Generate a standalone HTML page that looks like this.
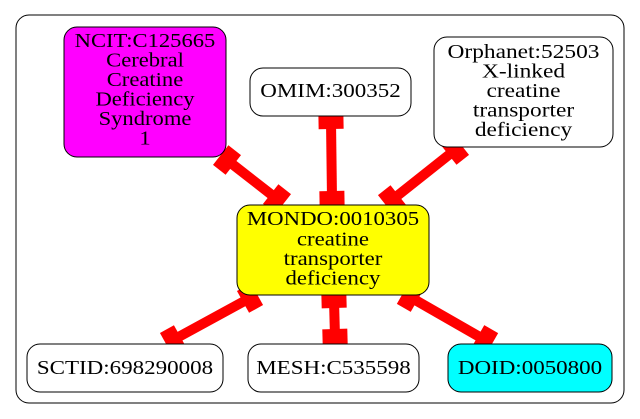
<!DOCTYPE html>
<html><head><meta charset="utf-8"><style>
html,body{margin:0;padding:0;background:#fff;}
svg{display:block;}
text{font-family:"Liberation Serif","DejaVu Serif",serif;font-size:20px;fill:#000;}
</style></head><body>
<svg width="640" height="419" viewBox="0 0 640 419" xmlns="http://www.w3.org/2000/svg">
<rect x="16" y="15" width="608" height="388" rx="13" fill="#fff" stroke="#000" stroke-width="1"/>

<g stroke="red" stroke-width="10" fill="none">
<line x1="227" y1="160" x2="277" y2="199"/>
<line x1="331" y1="121" x2="332" y2="199"/>
<line x1="455" y1="150" x2="392" y2="200"/>
<line x1="250" y1="298" x2="173" y2="340"/>
<line x1="334" y1="300" x2="335" y2="337"/>
<line x1="410" y1="297" x2="485" y2="340"/>
</g>
<g fill="red">
<rect x="-8" y="-12.5" width="16" height="25" transform="translate(227,160) rotate(38)"/>
<rect x="-8" y="-12.5" width="16" height="25" transform="translate(277,199) rotate(38)"/>
<rect x="-8" y="-12.5" width="16" height="25" transform="translate(331,121) rotate(89)"/>
<rect x="-8" y="-12.5" width="16" height="25" transform="translate(332,199) rotate(89)"/>
<rect x="-8" y="-12.5" width="16" height="25" transform="translate(455,150) rotate(141.6)"/>
<rect x="-8" y="-12.5" width="16" height="25" transform="translate(392,200) rotate(141.6)"/>
<rect x="-8" y="-12.5" width="16" height="25" transform="translate(250,298) rotate(151)"/>
<rect x="-8" y="-12.5" width="16" height="25" transform="translate(173,340) rotate(151)"/>
<rect x="-8" y="-12.5" width="16" height="25" transform="translate(334,300) rotate(88.5)"/>
<rect x="-8" y="-12.5" width="16" height="25" transform="translate(335,337) rotate(88.5)"/>
<rect x="-8" y="-12.5" width="16" height="25" transform="translate(410,297) rotate(29.8)"/>
<rect x="-8" y="-12.5" width="16" height="25" transform="translate(485,340) rotate(29.8)"/>
</g>

<rect x="64" y="27" width="162" height="130" rx="13" fill="#ff00ff" stroke="#000"/>
<g transform="translate(145,0) scale(1.13,1)" text-anchor="middle">
<text x="0" y="47">NCIT:C125665</text>
<text x="0" y="66.5">Cerebral</text>
<text x="0" y="86">Creatine</text>
<text x="0" y="105.5">Deficiency</text>
<text x="0" y="125">Syndrome</text>
<text x="0" y="144.5">1</text>
</g>

<rect x="250" y="68" width="161" height="48" rx="13" fill="#fff" stroke="#000"/>
<g transform="translate(330.5,0) scale(1.15,1)" text-anchor="middle">
<text x="0" y="97">OMIM:300352</text>
</g>

<rect x="434" y="37" width="179" height="110" rx="13" fill="#fff" stroke="#000"/>
<g transform="translate(523.5,0) scale(1.17,1)" text-anchor="middle">
<text x="0" y="58">Orphanet:52503</text>
<text x="0" y="77.5">X-linked</text>
<text x="0" y="97">creatine</text>
<text x="0" y="116.5">transporter</text>
<text x="0" y="136">deficiency</text>
</g>

<rect x="237" y="205" width="192" height="90" rx="13" fill="#ffff00" stroke="#000"/>
<g transform="translate(333,0) scale(1.14,1)" text-anchor="middle">
<text x="0" y="225">MONDO:0010305</text>
<text x="0" y="245.5">creatine</text>
<text x="0" y="265">transporter</text>
<text x="0" y="284.5">deficiency</text>
</g>

<rect x="27" y="344" width="196" height="48" rx="13" fill="#fff" stroke="#000"/>
<g transform="translate(125,0) scale(1.15,1)" text-anchor="middle">
<text x="0" y="374">SCTID:698290008</text>
</g>

<rect x="248" y="344" width="171" height="48" rx="13" fill="#fff" stroke="#000"/>
<g transform="translate(333.5,0) scale(1.15,1)" text-anchor="middle">
<text x="0" y="374">MESH:C535598</text>
</g>

<rect x="448" y="344" width="164" height="48" rx="13" fill="#00ffff" stroke="#000"/>
<g transform="translate(530,0) scale(1.15,1)" text-anchor="middle">
<text x="0" y="374">DOID:0050800</text>
</g>
</svg>
</body></html>
